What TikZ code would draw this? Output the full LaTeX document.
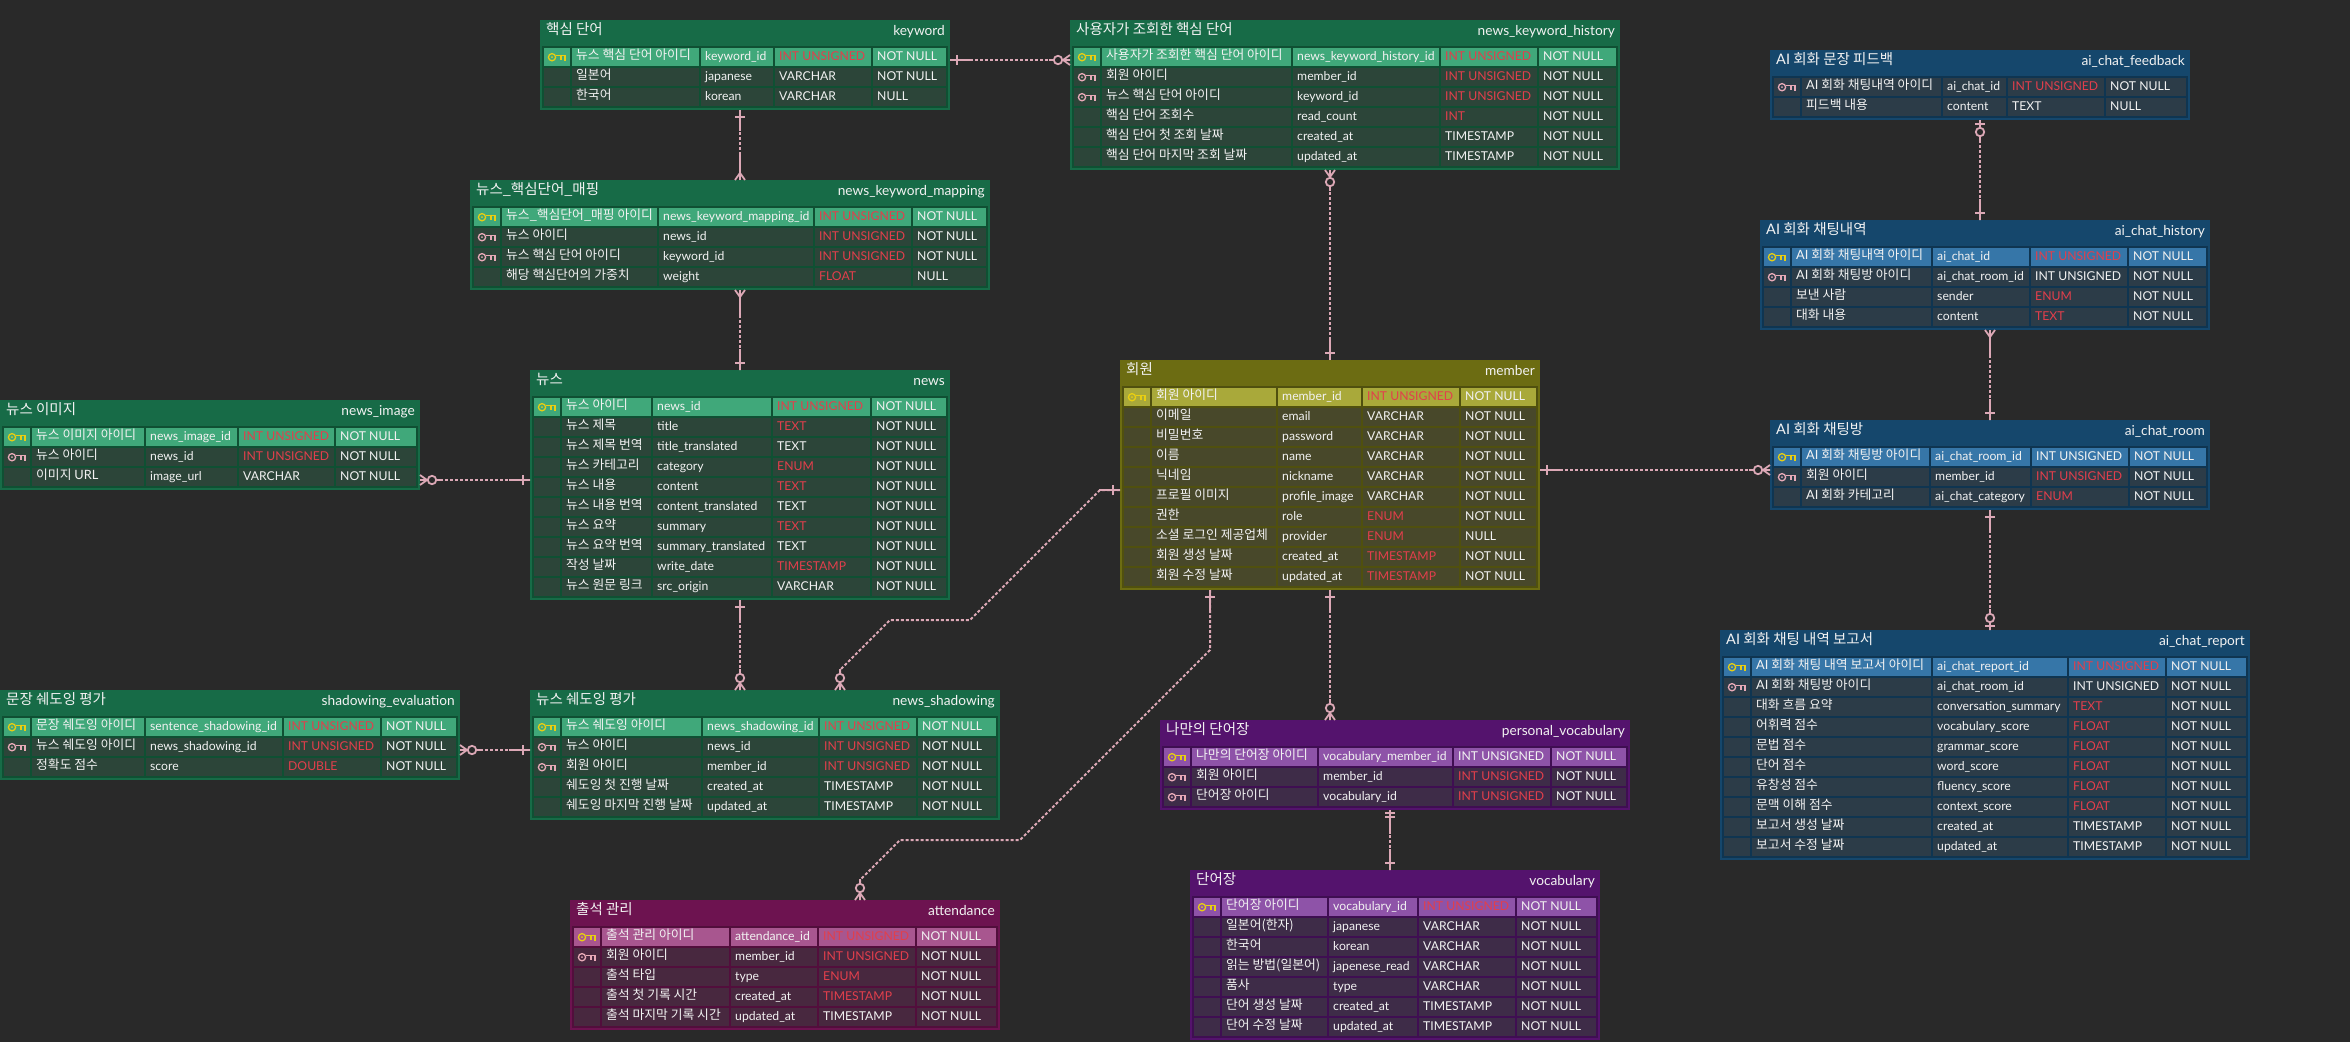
\documentclass[tikz,border=0pt]{standalone}
\usepackage{fontspec}
\setmainfont{Lato}
\newfontfamily\krfont{Noto Sans CJK KR}
\newcommand{\latn}[1]{{\rmfamily #1}}

% page and connector colours
\definecolor{pagebg}{HTML}{292929}
\definecolor{relink}{HTML}{DCA8B6}
\definecolor{erdW}{HTML}{F2F2F2}
\definecolor{erdR}{HTML}{E23F4C}
\definecolor{keyP}{HTML}{E8CE12}
\definecolor{keyF}{HTML}{E8AAB8}
% table palettes: title band, inner rim, primary-key row, plain row
\definecolor{grnHead}{HTML}{176B47}\definecolor{grnRim}{HTML}{0F5033}\definecolor{grnPk}{HTML}{40A87A}\definecolor{grnCell}{HTML}{2C4539}
\definecolor{oliHead}{HTML}{6C6C12}\definecolor{oliRim}{HTML}{50500E}\definecolor{oliPk}{HTML}{A9A93A}\definecolor{oliCell}{HTML}{48482A}
\definecolor{bluHead}{HTML}{15476C}\definecolor{bluRim}{HTML}{0F3551}\definecolor{bluPk}{HTML}{3676A8}\definecolor{bluCell}{HTML}{2C3C48}
\definecolor{magHead}{HTML}{6D1350}\definecolor{magRim}{HTML}{520E3C}\definecolor{magPk}{HTML}{A8568F}\definecolor{magCell}{HTML}{48283F}
\definecolor{purHead}{HTML}{54136D}\definecolor{purRim}{HTML}{3F0E52}\definecolor{purPk}{HTML}{8E53A8}\definecolor{purCell}{HTML}{3E2C48}

\tikzset{
  tablebox/.style={inner sep=0pt,outer sep=0pt,anchor=north west},
  headkr/.style={inner sep=0pt,anchor=base west,text=erdW,font=\krfont\fontsize{14.5}{16}\selectfont},
  headen/.style={inner sep=0pt,anchor=base east,text=erdW,font=\fontsize{13.7}{16}\selectfont},
  cellkr/.style={inner sep=0pt,anchor=base west,text=erdW,font=\krfont\fontsize{12.8}{15}\selectfont},
  cellen/.style={inner sep=0pt,anchor=base west,font=\fontsize{12.2}{15}\selectfont},
  rel/.style={draw=relink,line width=2pt,dash pattern=on 3pt off 2pt},
  relsolid/.style={draw=relink,line width=2pt},
  relmark/.style={draw=relink,line width=1.8pt},
}

\newcount\erdrowno
% #1 node name, #2 palette, then x0,y0,x1,y1, start of the three right columns, Korean title, table name
\newcommand{\etable}[2]{\def\tn{#1}\def\pal{#2}\etablepos}
\newcommand{\etablepos}[9]{%
  \def\xa{#1}\def\ty{#2}\def\xb{#3}\def\yb{#4}\def\cb{#5}\def\cc{#6}\def\cd{#7}%
  \erdrowno=0
  \colorlet{curHead}{\pal Head}\colorlet{curRim}{\pal Rim}\colorlet{curPk}{\pal Pk}\colorlet{curCell}{\pal Cell}%
  \node[tablebox,fill=curHead,minimum width={#3-#1},minimum height={#4-#2}] (\tn) at (#1,#2) {};
  \fill[curRim] (#1+2,#2+26) rectangle (#3-2,#4-2);
  \node[headkr] (\tn-kr) at (#1+6,#2+14) {#8};
  \node[headen] (\tn-en) at (#3-5,#2+15) {#9};
}
% #1 key kind p/f/n, #2 Korean label, #3 column, #4 type colour R/W, #5 type, #6 nullability
\newcommand{\erow}[6]{%
  \edef\ry{\the\numexpr\ty+28+20*\erdrowno\relax}%
  \if#1p\colorlet{curFill}{curPk}\else\colorlet{curFill}{curCell}\fi
  \fill[curFill] (\xa+4,\ry) rectangle (\xa+30,\ry+18);
  \fill[curFill] (\xa+32,\ry) rectangle (\cb-2,\ry+18);
  \fill[curFill] (\cb,\ry) rectangle (\cc-2,\ry+18);
  \fill[curFill] (\cc,\ry) rectangle (\cd-2,\ry+18);
  \fill[curFill] (\cd,\ry) rectangle (\xb-4,\ry+18);
  \if#1p\erdkey{keyP}\fi
  \if#1f\erdkey{keyF}\fi
  \node[cellkr] (\tn-\the\erdrowno-label) at (\xa+36,\ry+11) {#2};
  \node[cellen,text=erdW] (\tn-\the\erdrowno-col) at (\cb+4,\ry+12) {#3};
  \node[cellen,text=erd#4] (\tn-\the\erdrowno-type) at (\cc+4,\ry+12) {#5};
  \node[cellen,text=erdW] (\tn-\the\erdrowno-null) at (\cd+4,\ry+12) {#6};
  \global\advance\erdrowno by 1
}
% key glyph inside the first cell of the current row
\newcommand{\erdkey}[1]{%
  \begin{scope}[shift={(\xa+8,\ry+9)},line width=1.3pt,draw=#1]
    \draw (4,0.2) circle[radius=3.6];
    \fill[#1] (4,0.2) circle[radius=1];
    \draw (7.6,-1.5) -- (17,-1.5) -- (17,3.8);
    \draw (13,-1.5) -- (13,3);
  \end{scope}%
}
% relationship ends; local x runs away from the table edge
\newcommand{\tipone}{%
  \draw[relsolid] (0,0) -- (21,0);
  \draw[relmark] (7,-5) -- (7,5);}
\newcommand{\tipdouble}{%
  \draw[relsolid] (0,0) -- (24,0);
  \draw[relmark] (3.3,-5) -- (3.3,5) (7,-5) -- (7,5);}
\newcommand{\tipcrow}{%
  \draw[relsolid] (0,0) -- (27,0);
  \draw[relmark] (0,-5) -- (7,0) -- (0,5);}
\newcommand{\tipcrowzero}{%
  \draw[relsolid] (0,0) -- (21,0);
  \draw[relmark] (0,-5) -- (7,0) -- (0,5);
  \draw[relmark,fill=pagebg] (12,0) circle[radius=4.2];}
\newcommand{\tiponezero}{%
  \draw[relsolid] (0,0) -- (21,0);
  \draw[relmark] (3.8,-5) -- (3.8,5);
  \draw[relmark,fill=pagebg] (12,0) circle[radius=4.2];}
\newcommand{\relend}[3]{\begin{scope}[shift={(#1)},rotate=#2]\csname tip#3\endcsname\end{scope}}

\begin{document}
\begin{tikzpicture}[x=1pt,y=-1pt]
\useasboundingbox (0,0) rectangle (2350,1042);
\fill[pagebg] (0,0) rectangle (2350,1042);

\etable{keyword}{grn}{540}{20}{950}{110}{701}{775}{873}{핵심 단어}{keyword}
\erow{p}{뉴스 핵심 단어 아이디}{keyword\_id}{R}{INT UNSIGNED}{NOT NULL}
\erow{n}{일본어}{japanese}{W}{VARCHAR}{NOT NULL}
\erow{n}{한국어}{korean}{W}{VARCHAR}{NULL}

\etable{kwmap}{grn}{470}{180}{990}{290}{659}{815}{913}{뉴스\_핵심단어\_매핑}{news\_keyword\_mapping}
\erow{p}{뉴스\_핵심단어\_매핑 아이디}{news\_keyword\_mapping\_id}{R}{INT UNSIGNED}{NOT NULL}
\erow{f}{뉴스 아이디}{news\_id}{R}{INT UNSIGNED}{NOT NULL}
\erow{f}{뉴스 핵심 단어 아이디}{keyword\_id}{R}{INT UNSIGNED}{NOT NULL}
\erow{n}{해당 핵심단어의 가중치}{weight}{R}{FLOAT}{NULL}

\etable{kwhist}{grn}{1070}{20}{1620}{170}{1293}{1441}{1539}{사용자가 조회한 핵심 단어}{news\_keyword\_history}
\erow{p}{사용자가 조회한 핵심 단어 아이디}{news\_keyword\_history\_id}{R}{INT UNSIGNED}{NOT NULL}
\erow{f}{회원 아이디}{member\_id}{R}{INT UNSIGNED}{NOT NULL}
\erow{f}{뉴스 핵심 단어 아이디}{keyword\_id}{R}{INT UNSIGNED}{NOT NULL}
\erow{n}{핵심 단어 조회수}{read\_count}{R}{INT}{NOT NULL}
\erow{n}{핵심 단어 첫 조회 날짜}{created\_at}{W}{TIMESTAMP}{NOT NULL}
\erow{n}{핵심 단어 마지막 조회 날짜}{updated\_at}{W}{TIMESTAMP}{NOT NULL}

\etable{newsimg}{grn}{0}{400}{420}{490}{146}{239}{336}{뉴스 이미지}{news\_image}
\erow{p}{뉴스 이미지 아이디}{news\_image\_id}{R}{INT UNSIGNED}{NOT NULL}
\erow{f}{뉴스 아이디}{news\_id}{R}{INT UNSIGNED}{NOT NULL}
\erow{n}{이미지 \latn{URL}}{image\_url}{W}{VARCHAR}{NOT NULL}

\etable{evaluation}{grn}{0}{690}{460}{780}{146}{284}{382}{문장 쉐도잉 평가}{shadowing\_evaluation}
\erow{p}{문장 쉐도잉 아이디}{sentence\_shadowing\_id}{R}{INT UNSIGNED}{NOT NULL}
\erow{f}{뉴스 쉐도잉 아이디}{news\_shadowing\_id}{R}{INT UNSIGNED}{NOT NULL}
\erow{n}{정확도 점수}{score}{R}{DOUBLE}{NOT NULL}

\etable{news}{grn}{530}{370}{950}{600}{653}{773}{872}{뉴스}{news}
\erow{p}{뉴스 아이디}{news\_id}{R}{INT UNSIGNED}{NOT NULL}
\erow{n}{뉴스 제목}{title}{R}{TEXT}{NOT NULL}
\erow{n}{뉴스 제목 번역}{title\_translated}{W}{TEXT}{NOT NULL}
\erow{n}{뉴스 카테고리}{category}{R}{ENUM}{NOT NULL}
\erow{n}{뉴스 내용}{content}{R}{TEXT}{NOT NULL}
\erow{n}{뉴스 내용 번역}{content\_translated}{W}{TEXT}{NOT NULL}
\erow{n}{뉴스 요약}{summary}{R}{TEXT}{NOT NULL}
\erow{n}{뉴스 요약 번역}{summary\_translated}{W}{TEXT}{NOT NULL}
\erow{n}{작성 날짜}{write\_date}{R}{TIMESTAMP}{NOT NULL}
\erow{n}{뉴스 원문 링크}{src\_origin}{W}{VARCHAR}{NOT NULL}

\etable{newsshadow}{grn}{530}{690}{1000}{820}{703}{820}{918}{뉴스 쉐도잉 평가}{news\_shadowing}
\erow{p}{뉴스 쉐도잉 아이디}{news\_shadowing\_id}{R}{INT UNSIGNED}{NOT NULL}
\erow{f}{뉴스 아이디}{news\_id}{R}{INT UNSIGNED}{NOT NULL}
\erow{f}{회원 아이디}{member\_id}{R}{INT UNSIGNED}{NOT NULL}
\erow{n}{쉐도잉 첫 진행 날짜}{created\_at}{W}{TIMESTAMP}{NOT NULL}
\erow{n}{쉐도잉 마지막 진행 날짜}{updated\_at}{W}{TIMESTAMP}{NOT NULL}

\etable{member}{oli}{1120}{360}{1540}{590}{1278}{1363}{1461}{회원}{member}
\erow{p}{회원 아이디}{member\_id}{R}{INT UNSIGNED}{NOT NULL}
\erow{n}{이메일}{email}{W}{VARCHAR}{NOT NULL}
\erow{n}{비밀번호}{password}{W}{VARCHAR}{NOT NULL}
\erow{n}{이름}{name}{W}{VARCHAR}{NOT NULL}
\erow{n}{닉네임}{nickname}{W}{VARCHAR}{NOT NULL}
\erow{n}{프로필 이미지}{profile\_image}{W}{VARCHAR}{NOT NULL}
\erow{n}{권한}{role}{R}{ENUM}{NOT NULL}
\erow{n}{소셜 로그인 제공업체}{provider}{R}{ENUM}{NULL}
\erow{n}{회원 생성 날짜}{created\_at}{R}{TIMESTAMP}{NOT NULL}
\erow{n}{회원 수정 날짜}{updated\_at}{R}{TIMESTAMP}{NOT NULL}

\etable{attendance}{mag}{570}{900}{1000}{1030}{731}{819}{917}{출석 관리}{attendance}
\erow{p}{출석 관리 아이디}{attendance\_id}{R}{INT UNSIGNED}{NOT NULL}
\erow{f}{회원 아이디}{member\_id}{R}{INT UNSIGNED}{NOT NULL}
\erow{n}{출석 타입}{type}{R}{ENUM}{NOT NULL}
\erow{n}{출석 첫 기록 시간}{created\_at}{R}{TIMESTAMP}{NOT NULL}
\erow{n}{출석 마지막 기록 시간}{updated\_at}{W}{TIMESTAMP}{NOT NULL}

\etable{personalvoc}{pur}{1160}{720}{1630}{810}{1319}{1454}{1552}{나만의 단어장}{personal\_vocabulary}
\erow{p}{나만의 단어장 아이디}{vocabulary\_member\_id}{W}{INT UNSIGNED}{NOT NULL}
\erow{f}{회원 아이디}{member\_id}{R}{INT UNSIGNED}{NOT NULL}
\erow{f}{단어장 아이디}{vocabulary\_id}{R}{INT UNSIGNED}{NOT NULL}

\etable{vocabulary}{pur}{1190}{870}{1600}{1040}{1329}{1419}{1517}{단어장}{vocabulary}
\erow{p}{단어장 아이디}{vocabulary\_id}{R}{INT UNSIGNED}{NOT NULL}
\erow{n}{일본어(한자)}{japanese}{W}{VARCHAR}{NOT NULL}
\erow{n}{한국어}{korean}{W}{VARCHAR}{NOT NULL}
\erow{n}{읽는 방법(일본어)}{japenese\_read}{W}{VARCHAR}{NOT NULL}
\erow{n}{품사}{type}{W}{VARCHAR}{NOT NULL}
\erow{n}{단어 생성 날짜}{created\_at}{W}{TIMESTAMP}{NOT NULL}
\erow{n}{단어 수정 날짜}{updated\_at}{W}{TIMESTAMP}{NOT NULL}

\etable{feedback}{blu}{1770}{50}{2190}{120}{1943}{2008}{2106}{\latn{AI} 회화 문장 피드백}{ai\_chat\_feedback}
\erow{f}{\latn{AI} 회화 채팅내역 아이디}{ai\_chat\_id}{R}{INT UNSIGNED}{NOT NULL}
\erow{n}{피드백 내용}{content}{W}{TEXT}{NULL}

\etable{chathist}{blu}{1760}{220}{2210}{330}{1933}{2031}{2129}{\latn{AI} 회화 채팅내역}{ai\_chat\_history}
\erow{p}{\latn{AI} 회화 채팅내역 아이디}{ai\_chat\_id}{R}{INT UNSIGNED}{NOT NULL}
\erow{f}{\latn{AI} 회화 채팅방 아이디}{ai\_chat\_room\_id}{W}{INT UNSIGNED}{NOT NULL}
\erow{n}{보낸 사람}{sender}{R}{ENUM}{NOT NULL}
\erow{n}{대화 내용}{content}{R}{TEXT}{NOT NULL}

\etable{chatroom}{blu}{1770}{420}{2210}{510}{1931}{2032}{2130}{\latn{AI} 회화 채팅방}{ai\_chat\_room}
\erow{p}{\latn{AI} 회화 채팅방 아이디}{ai\_chat\_room\_id}{W}{INT UNSIGNED}{NOT NULL}
\erow{f}{회원 아이디}{member\_id}{R}{INT UNSIGNED}{NOT NULL}
\erow{n}{\latn{AI} 회화 카테고리}{ai\_chat\_category}{R}{ENUM}{NOT NULL}

\etable{report}{blu}{1720}{630}{2250}{860}{1933}{2069}{2167}{\latn{AI} 회화 채팅 내역 보고서}{ai\_chat\_report}
\erow{p}{\latn{AI} 회화 채팅 내역 보고서 아이디}{ai\_chat\_report\_id}{R}{INT UNSIGNED}{NOT NULL}
\erow{f}{\latn{AI} 회화 채팅방 아이디}{ai\_chat\_room\_id}{W}{INT UNSIGNED}{NOT NULL}
\erow{n}{대화 흐름 요약}{conversation\_summary}{R}{TEXT}{NOT NULL}
\erow{n}{어휘력 점수}{vocabulary\_score}{R}{FLOAT}{NOT NULL}
\erow{n}{문법 점수}{grammar\_score}{R}{FLOAT}{NOT NULL}
\erow{n}{단어 점수}{word\_score}{R}{FLOAT}{NOT NULL}
\erow{n}{유창성 점수}{fluency\_score}{R}{FLOAT}{NOT NULL}
\erow{n}{문맥 이해 점수}{context\_score}{R}{FLOAT}{NOT NULL}
\erow{n}{보고서 생성 날짜}{created\_at}{W}{TIMESTAMP}{NOT NULL}
\erow{n}{보고서 수정 날짜}{updated\_at}{W}{TIMESTAMP}{NOT NULL}

% relationship attachment points on the table edges
\coordinate (p1a) at (keyword.east |- 0,60);      \coordinate (p1b) at (kwhist.west |- 0,60);
\coordinate (p2a) at (kwmap.north -| 740,0);      \coordinate (p2b) at (keyword.south -| 740,0);
\coordinate (p3a) at (kwmap.south -| 740,0);      \coordinate (p3b) at (news.north -| 740,0);
\coordinate (p4a) at (newsimg.east |- 0,480);     \coordinate (p4b) at (news.west |- 0,480);
\coordinate (p5a) at (evaluation.east |- 0,750);  \coordinate (p5b) at (newsshadow.west |- 0,750);
\coordinate (p6a) at (news.south -| 740,0);       \coordinate (p6b) at (newsshadow.north -| 740,0);
\coordinate (p7a) at (member.west |- 0,490);      \coordinate (p7b) at (newsshadow.north -| 840,0);
\coordinate (p8a) at (member.south -| 1210,0);    \coordinate (p8b) at (attendance.north -| 860,0);
\coordinate (p9a) at (member.south -| 1330,0);    \coordinate (p9b) at (personalvoc.north -| 1330,0);
\coordinate (p10a) at (member.north -| 1330,0);   \coordinate (p10b) at (kwhist.south -| 1330,0);
\coordinate (p11a) at (member.east |- 0,470);     \coordinate (p11b) at (chatroom.west |- 0,470);
\coordinate (p12a) at (feedback.south -| 1980,0); \coordinate (p12b) at (chathist.north -| 1980,0);
\coordinate (p13a) at (chathist.south -| 1990,0); \coordinate (p13b) at (chatroom.north -| 1990,0);
\coordinate (p14a) at (chatroom.south -| 1990,0); \coordinate (p14b) at (report.north -| 1990,0);
\coordinate (p15a) at (personalvoc.south -| 1390,0); \coordinate (p15b) at (vocabulary.north -| 1390,0);

% dashed relationship lines
\draw[rel] (p1a) -- (p1b);
\draw[rel] (p2a) -- (p2b);
\draw[rel] (p3a) -- (p3b);
\draw[rel] (p4a) -- (p4b);
\draw[rel] (p5a) -- (p5b);
\draw[rel] (p6a) -- (p6b);
\draw[rel] (p7a) -- (1100,490) -- (970,620) -- (890,620) -- (840,670) -- (p7b);
\draw[rel] (p8a) -- (1210,650) -- (1020,840) -- (900,840) -- (860,880) -- (p8b);
\draw[rel] (p9a) -- (p9b);
\draw[rel] (p10a) -- (p10b);
\draw[rel] (p11a) -- (p11b);
\draw[rel] (p12a) -- (p12b);
\draw[rel] (p13a) -- (p13b);
\draw[rel] (p14a) -- (p14b);
\draw[rel] (p15a) -- (p15b);

% cardinality marks at each table edge
\relend{p1a}{0}{one}       \relend{p1b}{180}{crowzero}
\relend{p2b}{270}{one}     \relend{p2a}{90}{crow}
\relend{p3a}{270}{crow}    \relend{p3b}{90}{one}
\relend{p4a}{0}{crowzero}  \relend{p4b}{180}{one}
\relend{p5a}{0}{crowzero}  \relend{p5b}{180}{one}
\relend{p6a}{270}{one}     \relend{p6b}{90}{crowzero}
\relend{p7a}{180}{one}     \relend{p7b}{90}{crowzero}
\relend{p8a}{270}{one}     \relend{p8b}{90}{crowzero}
\relend{p9a}{270}{one}     \relend{p9b}{90}{crowzero}
\relend{p10a}{90}{one}     \relend{p10b}{270}{crowzero}
\relend{p11a}{0}{one}      \relend{p11b}{180}{crowzero}
\relend{p12a}{270}{onezero}\relend{p12b}{90}{one}
\relend{p13a}{270}{crow}   \relend{p13b}{90}{one}
\relend{p14a}{270}{one}    \relend{p14b}{90}{onezero}
\relend{p15a}{270}{double} \relend{p15b}{90}{one}
\end{tikzpicture}
\end{document}
